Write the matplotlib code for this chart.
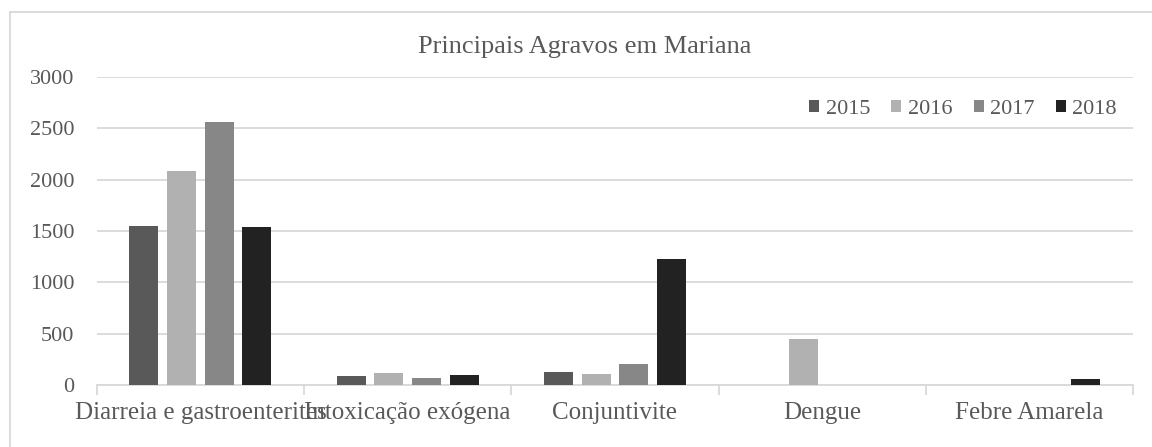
import numpy as np
import matplotlib
matplotlib.use("Agg")
import matplotlib.pyplot as plt
from matplotlib.lines import Line2D

categories = ["Diarreia e gastroenterites", "Intoxicação exógena", "Conjuntivite",
              "Dengue", "Febre Amarela"]
years = ["2015", "2016", "2017", "2018"]
v2015 = [1550, 85, 130, 0, 0]
v2016 = [2080, 115, 105, 450, 0]
v2017 = [2560, 68, 205, 0, 0]
v2018 = [1535, 92, 1225, 0, 55]
colors = ["#595959", "#b1b1b1", "#878787", "#222222"]
txt = "#595959"

plt.rcParams['font.family'] = ['Liberation Serif', 'DejaVu Serif']

fig = plt.figure(figsize=(11.52, 4.47), dpi=100)
ax = fig.add_axes([0.084, 0.139, 0.8995, 0.689])

x = np.arange(len(categories))
width = 0.14
step = 0.182
series = [v2015, v2016, v2017, v2018]
for i, vals in enumerate(series):
    ax.bar(x + (i - 1.5) * step, vals, width, color=colors[i], label=years[i], zorder=3)

ax.set_xlim(-0.5, len(categories) - 0.5)
ax.set_ylim(0, 3000)
ax.set_yticks(np.arange(0, 3001, 500))
ax.grid(axis="y", color="#d9d9d9", linewidth=1.3, zorder=0)
ax.set_xticks(x)
ax.set_xticklabels(categories)
ax.tick_params(axis="x", length=0, pad=12, labelsize=18, colors=txt)
ax.tick_params(axis="y", length=0, pad=16, labelsize=16, colors=txt)

# category boundary ticks
ax.set_xticks(np.arange(-0.5, len(categories)), minor=True)
ax.tick_params(axis="x", which="minor", length=7, color="#d9d9d9", width=1.3)

for s in ["top", "right", "left"]:
    ax.spines[s].set_visible(False)
ax.spines["bottom"].set_color("#d9d9d9")
ax.spines["bottom"].set_linewidth(1.3)

fig.text(0.5075, 0.895, "Principais Agravos em Mariana", fontsize=19, color=txt,
         ha="center", va="center")

leg = fig.legend(loc="center right", ncol=4, frameon=False, fontsize=16,
                 handlelength=0.45, handleheight=0.45, handletextpad=0.3,
                 columnspacing=0.95, borderpad=0, borderaxespad=0,
                 bbox_to_anchor=(0.9696, 0.755))
for t in leg.get_texts():
    t.set_color(txt)

# outer chart border (left and top edges visible)
fig.add_artist(Line2D([10 / 1152, 10 / 1152], [0, 1 - 12 / 447],
                      transform=fig.transFigure, color="#d9d9d9", linewidth=1.3))
fig.add_artist(Line2D([10 / 1152, 1], [1 - 12 / 447, 1 - 12 / 447],
                      transform=fig.transFigure, color="#d9d9d9", linewidth=1.3))

fig.savefig("out.png", dpi=100)
